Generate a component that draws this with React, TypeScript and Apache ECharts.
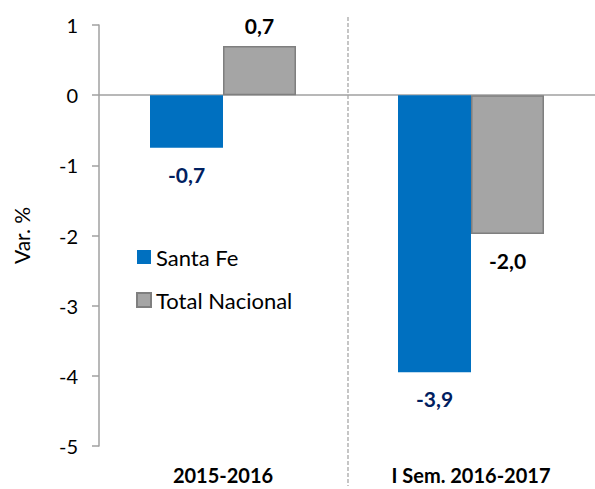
import React, { useEffect, useRef } from "react";
import * as echarts from "echarts";

const categories = ["2015-2016", "I Sem. 2016-2017"];
const santaFe = [-0.75, -3.95];
const santaFeLabels = ["-0,7", "-3,9"];
const totalNacional = [0.7, -1.98];
const totalNacionalLabels = ["0,7", "-2,0"];
const yTicks = { min: -5, max: 1, interval: 1 };

const FONT = "Lato, 'Noto Sans', sans-serif";

export default function App() {
  const ref = useRef<HTMLDivElement>(null);
  useEffect(() => {
    if (!ref.current) return;
    const chart = echarts.init(ref.current, undefined, { renderer: "svg" });
    const mk = (vals: number[], labels: string[], color: string) =>
      vals.map((v, i) => ({
        value: v,
        label: {
          show: true,
          position: v >= 0 ? "top" : "bottom",
          distance: v >= 0 ? 10 : 16,
          formatter: labels[i],
          color,
          fontSize: 21,
          fontWeight: "bold",
          fontFamily: FONT,
        },
      }));
    chart.setOption({
      animation: false,
      textStyle: { fontFamily: FONT },
      grid: { left: 99, top: 25, width: 502, height: 421, containLabel: false },
      legend: {
        orient: "vertical",
        left: 131,
        top: 241,
        icon: "rect",
        itemWidth: 14,
        itemHeight: 14,
        itemGap: 21,
        textStyle: { fontSize: 22, color: "#000", fontFamily: FONT },
        data: ["Santa Fe", "Total Nacional"],
      },
      xAxis: {
        type: "category",
        data: categories,
        axisLine: { show: false, onZero: false },
        axisTick: { show: false },
        axisLabel: {
          margin: 19,
          fontSize: 20,
          fontWeight: "bold",
          color: "#000",
          fontFamily: FONT,
        },
      },
      yAxis: {
        type: "value",
        min: yTicks.min,
        max: yTicks.max,
        interval: yTicks.interval,
        name: "Var. %",
        nameLocation: "middle",
        nameGap: 67,
        nameTextStyle: { fontSize: 21, color: "#000", fontFamily: FONT },
        splitLine: { show: false },
        axisLine: { show: true, lineStyle: { color: "#a0a0a0", width: 1.5 } },
        axisTick: { show: true, inside: false, length: 7, lineStyle: { color: "#a0a0a0", width: 1.5 } },
        axisLabel: { fontSize: 20, color: "#000", margin: 21, fontFamily: FONT },
      },
      graphic: [
        {
          type: "line",
          shape: { x1: 348, y1: 17, x2: 348, y2: 486 },
          style: { stroke: "#a0a0a0", lineWidth: 1.2, lineDash: [4, 2] },
          z: 0,
        },
      ],
      series: [
        {
          name: "Santa Fe",
          type: "bar",
          barWidth: 73,
          barGap: "0%",
          itemStyle: { color: "#0070c0" },
          label: {
            show: true,
            fontSize: 21,
            fontWeight: "bold",
            fontFamily: FONT,
          },
          data: mk(santaFe, santaFeLabels, "#002060"),
          markLine: {
            silent: true,
            symbol: "none",
            label: { show: false },
            lineStyle: { color: "#a0a0a0", type: "solid", width: 1.5 },
            data: [{ yAxis: 0 }],
            z: 1,
          },
        },
        {
          name: "Total Nacional",
          type: "bar",
          barWidth: 73,
          barGap: "0%",
          itemStyle: { color: "#a5a5a5", borderColor: "#7f7f7f", borderWidth: 1.5 },
          label: {
            show: true,
            fontSize: 21,
            fontWeight: "bold",
            fontFamily: FONT,
          },
          data: mk(totalNacional, totalNacionalLabels, "#000"),
        },
      ],
    });
    return () => chart.dispose();
  }, []);
  return <div ref={ref} style={{ width: 595, height: 489, position: "absolute", left: 0, top: 0 }} />;
}
